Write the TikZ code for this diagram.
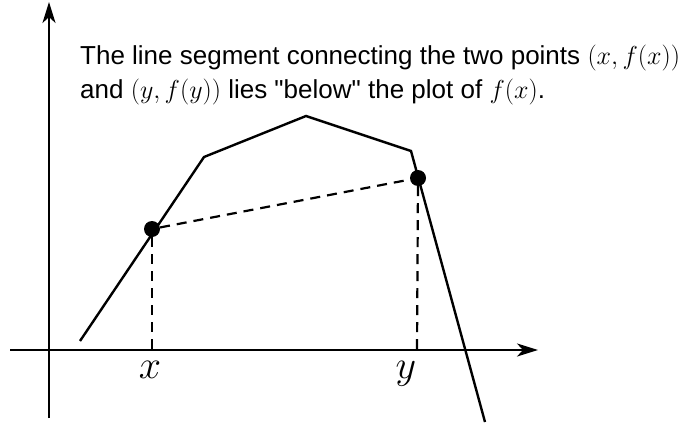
\RequirePackage{fix-cm}
\documentclass[tikz,border=0pt]{standalone}
\usepackage{amsmath}
\usepackage{fontspec}
\setmainfont{Liberation Sans}[Ligatures=TeXOff]
\usetikzlibrary{arrows.meta}
\tikzset{
  axis/.style={line width=2.4pt,-{Stealth[length=21pt,width=13pt,inset=6pt]}},
  plotline/.style={line width=2.4pt},
  chord/.style={line width=2.2pt,dash pattern=on 10pt off 7pt},
  dot/.style={circle,fill=black,inner sep=0pt,minimum size=16pt},
  caption/.style={font=\fontsize{26}{34}\selectfont,anchor=base west,inner sep=0pt},
  varlabel/.style={font=\fontsize{40}{40}\selectfont,inner sep=0pt}
}
\begin{document}
\begin{tikzpicture}[x=1pt,y=-1pt]
\useasboundingbox (0,0) rectangle (685,423);
% axes
\coordinate (xs) at (10,350);
\coordinate (xe) at (538,350);
\coordinate (ys) at (49,418);
\coordinate (ye) at (49,2);
\draw[axis] (xs) -- (xe);
\draw[axis] (ys) -- (ye);
% the plot of f
\coordinate (f0) at (80,341);
\coordinate (f1) at (204,157);
\coordinate (f2) at (306,116);
\coordinate (f3) at (411,151);
\coordinate (f4) at (485,422);
\draw[plotline,line join=miter] (f0) -- (f1) -- (f2) -- (f3) -- (f4);
% the two points and the segment between them
\node[dot] (px) at (152,229) {};
\node[dot] (py) at (418,178) {};
\coordinate (xa) at (152,350);
\coordinate (ya) at (417,350);
\draw[chord] (px) -- (py);
\draw[chord] (px) -- (xa);
\draw[chord] (py) -- (ya);
% labels
\node[varlabel] (xlab) at (150,370) {$x$};
\node[varlabel] (ylab) at (406,374) {$y$};
\node[caption] (cap1) at (80,64) {The line segment connecting the two points $(x,f(x))$};
\node[caption] (cap2) at (80,98) {and $(y,f(y))$ lies "below" the plot of $f(x)$.};
\end{tikzpicture}
\end{document}
